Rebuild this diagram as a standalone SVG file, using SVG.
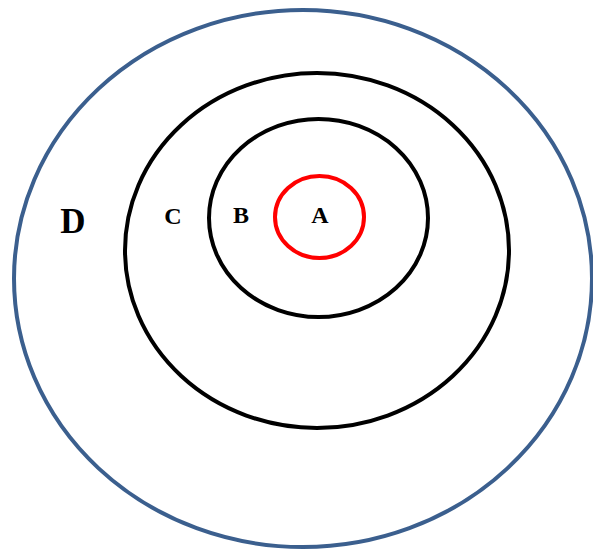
<svg xmlns="http://www.w3.org/2000/svg" width="593" height="552" viewBox="0 0 593 552">
<style>
.ring{fill:none;stroke-width:4}
.lbl{font-family:"Liberation Serif","Times New Roman",serif;font-weight:bold;text-anchor:middle;fill:#000}
</style>
<rect width="593" height="552" fill="#fff"/>
<g id="D"><ellipse class="ring" cx="303" cy="278.5" rx="289" ry="268.5" stroke="#3b5f8e"/><text class="lbl" x="73" y="233" font-size="35">D</text></g>
<g id="C"><ellipse class="ring" cx="317" cy="250.5" rx="192" ry="177.5" stroke="#000"/><text class="lbl" x="173" y="224" font-size="24">C</text></g>
<g id="B"><ellipse class="ring" cx="318.5" cy="218" rx="109.5" ry="99" stroke="#000"/><text class="lbl" x="241" y="223" font-size="24">B</text></g>
<g id="A"><ellipse class="ring" cx="319.5" cy="217" rx="44.5" ry="41" stroke="#f00"/><text class="lbl" x="320" y="223" font-size="24">A</text></g>
<g id="connectors"/>
</svg>
